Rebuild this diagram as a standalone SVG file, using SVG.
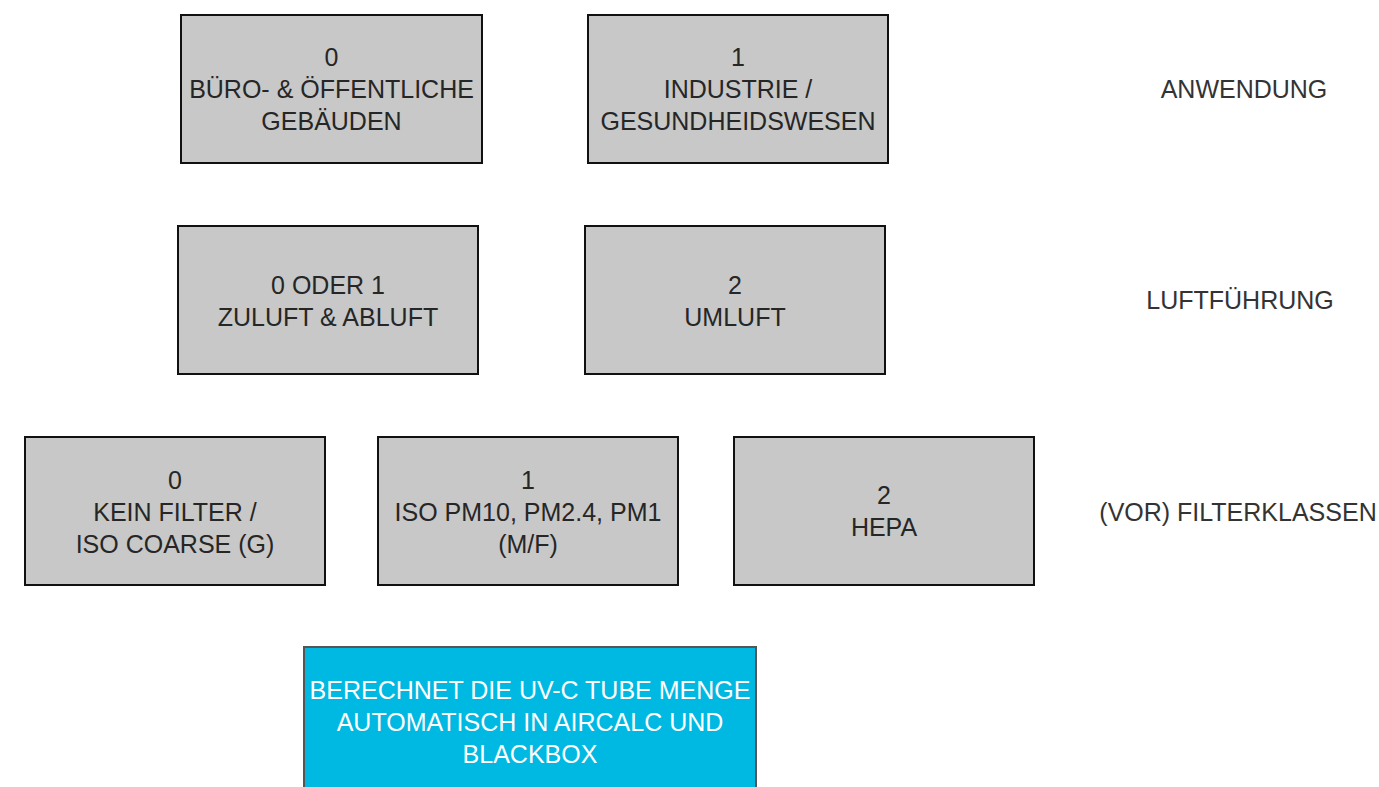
<svg xmlns="http://www.w3.org/2000/svg" width="1379" height="787" viewBox="0 0 1379 787">
<style>
.box{fill:#c8c8c8;stroke:#111;stroke-width:2}
.blue{fill:#00b9e2;stroke:#555;stroke-width:2}
text{font-family:"Liberation Sans",Arial,sans-serif;font-size:25px;text-anchor:middle;fill:#262626}
.w{fill:#ffffff}
.lbl{fill:#333}
</style>
<rect width="1379" height="787" fill="#ffffff"/>
<g id="n0"><rect class="box" x="181" y="15" width="301" height="148"/>
<text x="331.5"><tspan x="331.5" y="66">0</tspan><tspan x="331.5" y="98">BÜRO- &amp; ÖFFENTLICHE</tspan><tspan x="331.5" y="130">GEBÄUDEN</tspan></text></g>
<g id="n1"><rect class="box" x="588" y="15" width="300" height="148"/>
<text x="738"><tspan x="738" y="66">1</tspan><tspan x="738" y="98">INDUSTRIE /</tspan><tspan x="738" y="130">GESUNDHEIDSWESEN</tspan></text></g>
<g id="n2"><rect class="box" x="178" y="226" width="300" height="148"/>
<text x="328"><tspan x="328" y="294">0 ODER 1</tspan><tspan x="328" y="326">ZULUFT &amp; ABLUFT</tspan></text></g>
<g id="n3"><rect class="box" x="585" y="226" width="300" height="148"/>
<text x="735"><tspan x="735" y="294">2</tspan><tspan x="735" y="326">UMLUFT</tspan></text></g>
<g id="n4"><rect class="box" x="25" y="437" width="300" height="148"/>
<text x="175"><tspan x="175" y="489">0</tspan><tspan x="175" y="521">KEIN FILTER /</tspan><tspan x="175" y="553">ISO COARSE (G)</tspan></text></g>
<g id="n5"><rect class="box" x="378" y="437" width="300" height="148"/>
<text x="528"><tspan x="528" y="489">1</tspan><tspan x="528" y="521">ISO PM10, PM2.4, PM1</tspan><tspan x="528" y="553">(M/F)</tspan></text></g>
<g id="n6"><rect class="box" x="734" y="437" width="300" height="148"/>
<text x="884"><tspan x="884" y="504">2</tspan><tspan x="884" y="536">HEPA</tspan></text></g>
<g id="n7"><rect class="blue" x="304" y="647" width="452" height="160"/>
<text class="w"><tspan x="530" y="699">BERECHNET DIE UV-C TUBE MENGE</tspan><tspan x="530" y="731">AUTOMATISCH IN AIRCALC UND</tspan><tspan x="530" y="763">BLACKBOX</tspan></text></g>
<g id="labels">
<text class="lbl" x="1244" y="98">ANWENDUNG</text>
<text class="lbl" x="1240" y="309">LUFTFÜHRUNG</text>
<text class="lbl" x="1238" y="521">(VOR) FILTERKLASSEN</text>
</g>
<g id="connectors"></g>
</svg>
